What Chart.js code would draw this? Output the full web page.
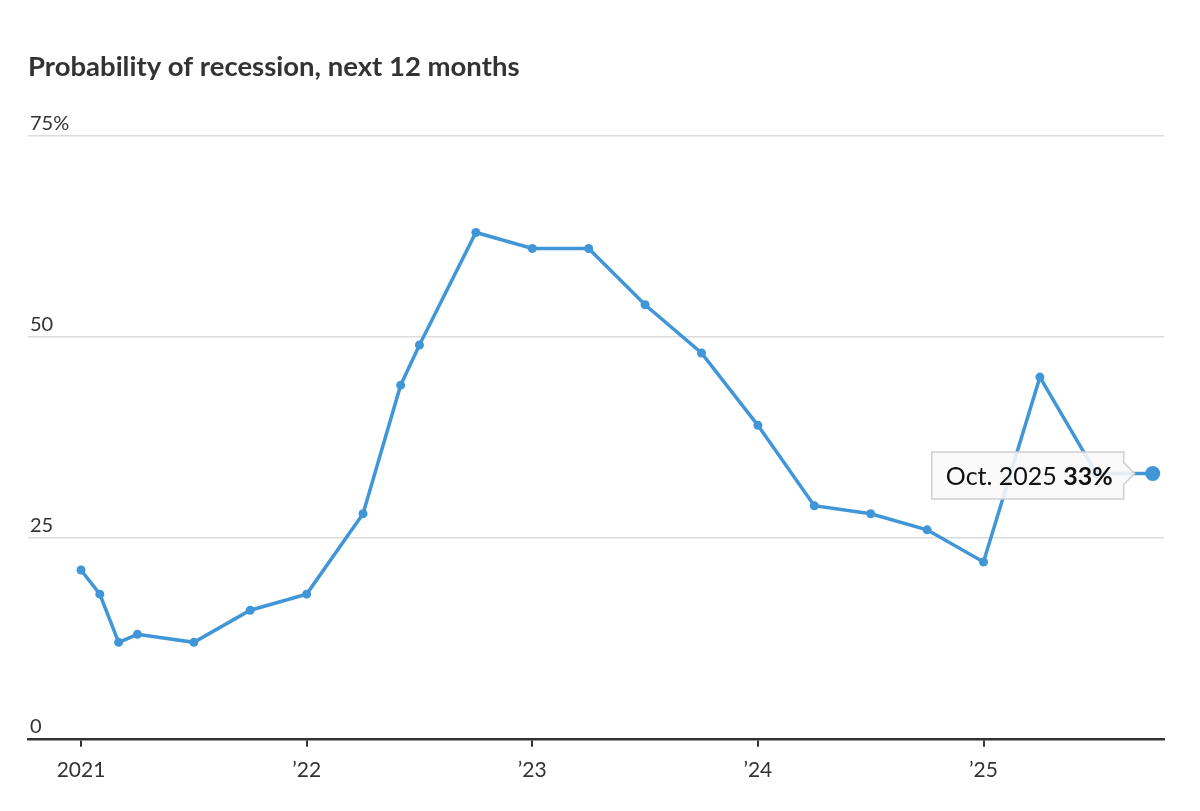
<!DOCTYPE html>
<html>
<head>
<meta charset="utf-8">
<script src="https://cdn.jsdelivr.net/npm/chart.js@4.4.1/dist/chart.umd.min.js"></script>
<style>
  html, body { margin: 0; padding: 0; background: #fff; }
  #wrap { width: 1200px; height: 811px; }
</style>
</head>
<body>
<div id="wrap"><canvas id="recessionChart" width="1200" height="811"></canvas></div>
<script>
// survey dates (year-month) and probability of recession, %
const surveyDates = ['2021-01', '2021-02', '2021-03', '2021-04', '2021-07', '2021-10',
    '2022-01', '2022-04', '2022-06', '2022-07', '2022-10',
    '2023-01', '2023-04', '2023-07', '2023-10',
    '2024-01', '2024-04', '2024-07', '2024-10',
    '2025-01', '2025-04', '2025-07', '2025-10'];
const probability = [21, 18, 12, 13, 12, 16,
    18, 28, 44, 49, 63,
    61, 61, 54, 48,
    39, 29, 28, 26,
    22, 45, 33, 33];

const yearTicks = [2021, 2022, 2023, 2024, 2025];
const yearLabels = ['2021', '\u201922', '\u201923', '\u201924', '\u201925'];
const yTicks = [0, 25, 50, 75];
const calloutDate = 'Oct. 2025';
const calloutValue = '33%';

const lineColor = '#4196d8';
const textColor = '#333333';
const fontFamily = 'Lato, "Noto Sans", sans-serif';

// "2021-04" -> 2021.25
function toYear(d) {
    const [y, m] = d.split('-').map(Number);
    return y + (m - 1) / 12;
}

const points = surveyDates.map((d, i) => ({ x: toYear(d), y: probability[i] }));
const lastIdx = points.length - 1;

// box with the latest reading, pointing at the last point
const calloutPlugin = {
    id: 'callout',
    afterDatasetsDraw(chart) {
        const ctx = chart.ctx;
        const meta = chart.getDatasetMeta(0);
        const pt = meta.data[lastIdx];
        const tipX = pt.x - 18;
        const boxRight = tipX - 11;
        const boxW = 192, boxH = 47;
        const boxLeft = boxRight - boxW;
        const boxTop = pt.y - boxH / 2 + 2;

        ctx.save();
        ctx.beginPath();
        ctx.moveTo(boxLeft, boxTop);
        ctx.lineTo(boxRight, boxTop);
        ctx.lineTo(boxRight, pt.y - 11);
        ctx.lineTo(tipX, pt.y);
        ctx.lineTo(boxRight, pt.y + 11);
        ctx.lineTo(boxRight, boxTop + boxH);
        ctx.lineTo(boxLeft, boxTop + boxH);
        ctx.closePath();
        ctx.fillStyle = 'rgba(248,248,248,0.88)';
        ctx.fill();
        ctx.strokeStyle = '#cfcfcf';
        ctx.lineWidth = 1.5;
        ctx.stroke();

        ctx.textBaseline = 'alphabetic';
        ctx.textAlign = 'left';
        const baseY = boxTop + 33;
        ctx.font = 'bold 25px ' + fontFamily;
        const boldW = ctx.measureText(calloutValue).width;
        ctx.font = '25px ' + fontFamily;
        const regW = ctx.measureText(calloutDate + ' ').width;
        const startX = boxRight - 11 - boldW - regW;
        ctx.fillStyle = '#111';
        ctx.fillText(calloutDate + ' ', startX, baseY);
        ctx.font = 'bold 25px ' + fontFamily;
        ctx.fillText(calloutValue, startX + regW, baseY);
        ctx.restore();
    }
};

new Chart(document.getElementById('recessionChart'), {
    type: 'line',
    data: {
        datasets: [{
            data: points,
            borderColor: lineColor,
            backgroundColor: lineColor,
            borderWidth: 3.5,
            pointRadius: points.map((p, i) => i === lastIdx ? 7.5 : 4.5),
            pointBorderWidth: 0,
            tension: 0
        }]
    },
    options: {
        responsive: false,
        animation: false,
        events: [],
        layout: { padding: { left: 24, right: 36, top: 51, bottom: 17 } },
        plugins: {
            legend: { display: false },
            tooltip: { enabled: false },
            title: {
                display: true,
                fullSize: false,
                text: 'Probability of recession, next 12 months',
                align: 'start',
                color: textColor,
                font: { family: fontFamily, size: 27.5, weight: 'bold' },
                padding: { top: 0, bottom: 52 }
            }
        },
        scales: {
            x: {
                type: 'linear',
                min: 2020.765,
                max: 2025.8,
                afterBuildTicks: axis => { axis.ticks = yearTicks.map(v => ({ value: v })); },
                ticks: {
                    autoSkip: false,
                    maxRotation: 0,
                    padding: 11,
                    color: textColor,
                    font: { family: fontFamily, size: 21 },
                    callback: v => yearLabels[yearTicks.indexOf(v)]
                },
                grid: {
                    drawOnChartArea: false,
                    drawTicks: true,
                    tickLength: 8,
                    color: textColor,
                    lineWidth: 2
                },
                border: { display: true, color: textColor, width: 2.5 }
            },
            y: {
                min: 0,
                max: 75,
                afterBuildTicks: axis => { axis.ticks = yTicks.map(v => ({ value: v })); },
                ticks: {
                    mirror: true,
                    padding: 2,
                    labelOffset: -12,
                    color: textColor,
                    font: { family: fontFamily, size: 20 },
                    callback: v => v === 75 ? v + '%' : v
                },
                grid: { drawTicks: false, color: '#dcdcdc', lineWidth: 1.5 },
                border: { display: false }
            }
        }
    },
    plugins: [calloutPlugin]
});
</script>
</body>
</html>
